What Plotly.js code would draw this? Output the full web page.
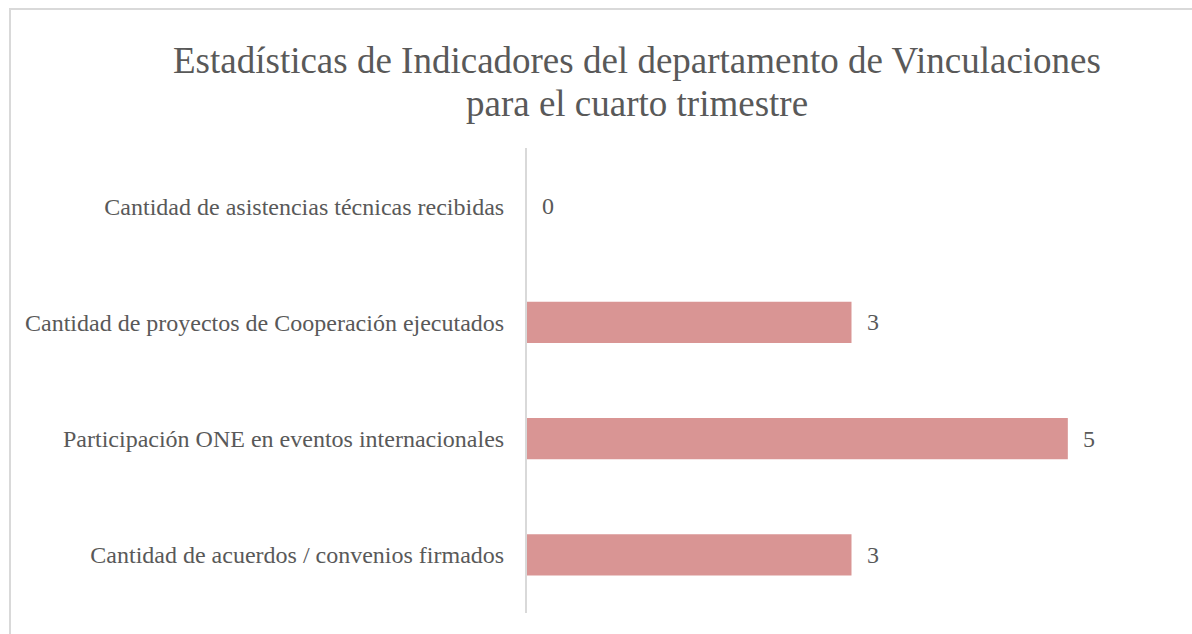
<!DOCTYPE html>
<html>
<head>
<meta charset="utf-8">
<script src="https://cdn.plot.ly/plotly-3.0.1.min.js"></script>
<style>
  html, body { margin: 0; padding: 0; background: #fff; overflow: hidden; }
  #chart { width: 1192px; height: 634px; position: absolute; left: 0; top: 0; }
  #frame { position: absolute; left: 9px; top: 8px; width: 1300px; height: 800px;
           border: 2px solid #d9d9d9; pointer-events: none; box-sizing: border-box; }
</style>
</head>
<body>
<div id="chart"></div>
<div id="frame"></div>
<script>
const titleLines = [
  "Estadísticas de Indicadores del departamento de Vinculaciones",
  "para el cuarto trimestre"
];
const categories = [
  "Cantidad de asistencias técnicas recibidas",
  "Cantidad de proyectos de Cooperación ejecutados",
  "Participación ONE en eventos internacionales",
  "Cantidad de acuerdos / convenios firmados"
];
const values = [0, 3, 5, 3];

const fontFam = "Liberation Serif, Times New Roman, serif";
const grey = "#595959";

const labelAnnotations = categories.map((c, i) => ({
  x: values[i], y: c, xref: "x", yref: "y",
  text: String(values[i]), showarrow: false,
  xanchor: "left", yanchor: "middle", xshift: 13,
  font: { family: fontFam, size: 24, color: grey }
}));

const titleAnnotations = [
  { text: titleLines[0], y: 60 },
  { text: titleLines[1], y: 103 }
].map(t => ({
  xref: "paper", yref: "paper",
  x: (637 - 527) / (1192 - 527 - 16),
  y: 1 + (148 - t.y) / (634 - 148 - 21),
  text: t.text, showarrow: false,
  xanchor: "center", yanchor: "middle",
  font: { family: fontFam, size: 37, color: grey }
}));

Plotly.newPlot("chart", [{
  type: "bar",
  orientation: "h",
  x: values,
  y: categories,
  marker: { color: "#D99594" },
  hoverinfo: "none"
}], {
  width: 1192, height: 634,
  margin: { l: 527, r: 16, t: 148, b: 21, pad: 0 },
  paper_bgcolor: "#ffffff",
  plot_bgcolor: "#ffffff",
  bargap: 0.647,
  showlegend: false,
  xaxis: {
    range: [0, 6], visible: false, showgrid: false, zeroline: false, fixedrange: true
  },
  yaxis: {
    autorange: "reversed",
    showline: true, linecolor: "#d9d9d9", linewidth: 2,
    showgrid: false, zeroline: false,
    ticks: "", ticklabelstandoff: 16,
    tickfont: { family: fontFam, size: 24, color: grey },
    fixedrange: true
  },
  annotations: titleAnnotations.concat(labelAnnotations)
}, { displayModeBar: false, staticPlot: true });
</script>
</body>
</html>
